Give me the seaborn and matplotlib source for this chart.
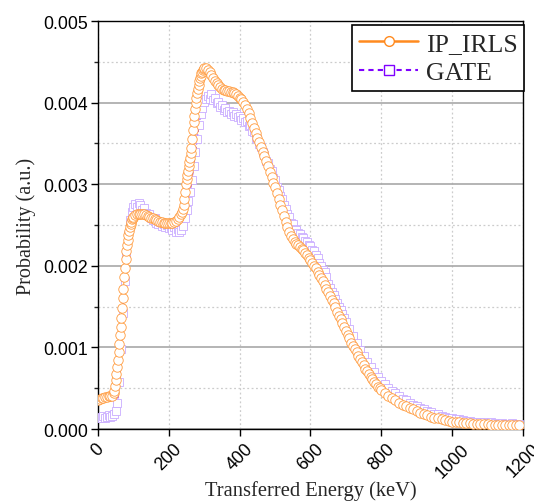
import matplotlib
matplotlib.use("Agg")
import matplotlib.pyplot as plt
from matplotlib.lines import Line2D
from matplotlib.ticker import MultipleLocator, FormatStrFormatter
import seaborn as sns

# IP_IRLS curve (energy in keV, probability)
irls_energy = [*range(0, 46, 5), *range(46, 101, 2), *range(105, 236, 5),
               *range(238, 301, 2), *range(305, 801, 5), *range(810, 1191, 10)]
irls_seg1 = [0.00036, 0.00037, 0.00038, 0.00038, 0.00039, 0.00039, 0.0004, 0.0004, 0.00041, 0.00044]
irls_seg2 = [0.00047, 0.00053, 0.0006, 0.00068, 0.00076, 0.00084, 0.00094, 0.00104, 0.00115, 0.00125,
             0.00136, 0.00148, 0.0016, 0.00172, 0.00186, 0.00197, 0.00208, 0.00218, 0.00225, 0.00232,
             0.00238, 0.00243, 0.00247, 0.00251, 0.00254, 0.00257, 0.00259, 0.0026]
irls_seg3 = [0.00262, 0.00263, 0.00264, 0.00264, 0.00264, 0.00263, 0.00262, 0.00261, 0.0026, 0.00259,
             0.00258, 0.00257, 0.00256, 0.00255, 0.00254, 0.00254, 0.00253, 0.00253, 0.00253, 0.00253,
             0.00253, 0.00253, 0.00254, 0.00255, 0.00257, 0.0026, 0.00263]
irls_seg4 = [0.00266, 0.0027, 0.00275, 0.00282, 0.0029, 0.003, 0.00306, 0.00311, 0.00316, 0.00322,
             0.00327, 0.00332, 0.00338, 0.00345, 0.00356, 0.00367, 0.00376, 0.00384, 0.00392, 0.00399,
             0.00406, 0.00412, 0.00417, 0.00422, 0.00426, 0.0043, 0.00433, 0.00436, 0.00438, 0.0044,
             0.00441, 0.00442]
irls_seg5 = [0.00442, 0.0044, 0.00437, 0.00434, 0.0043, 0.00427, 0.00424, 0.00421, 0.00419, 0.00417,
             0.00416, 0.00415, 0.00414, 0.00414, 0.00413, 0.00413, 0.00412, 0.0041, 0.00408, 0.00406,
             0.00404, 0.00401, 0.00397, 0.00392, 0.00387, 0.00381, 0.00375, 0.00369, 0.00363, 0.00357,
             0.00352, 0.00346, 0.0034, 0.00334, 0.00328, 0.00322, 0.00315, 0.00309, 0.00302, 0.00296,
             0.00289, 0.00282, 0.00275, 0.00268, 0.00261, 0.00254, 0.00248, 0.00242, 0.00237, 0.00233,
             0.00229, 0.00227, 0.00225, 0.00223, 0.00221, 0.00219, 0.00216, 0.00213, 0.0021, 0.00207,
             0.00204, 0.002, 0.00197, 0.00193, 0.00189, 0.00185, 0.00181, 0.00176, 0.00172, 0.00168,
             0.00163, 0.00158, 0.00154, 0.00149, 0.00144, 0.00139, 0.00135, 0.0013, 0.00125, 0.0012,
             0.00115, 0.00111, 0.00106, 0.00102, 0.00098, 0.00094, 0.0009, 0.00086, 0.00082, 0.00078,
             0.00074, 0.00071, 0.00067, 0.00064, 0.00061, 0.00058, 0.00055, 0.00052, 0.0005, 0.00048]
irls_seg6 = [0.00044, 0.00041, 0.00038, 0.00035, 0.00032, 0.0003, 0.00028, 0.00026, 0.00024, 0.00022,
             0.0002, 0.00018, 0.00017, 0.00015, 0.00014, 0.00013, 0.00012, 0.00011, 0.0001, 0.00009,
             0.000085, 0.00008, 0.000075, 0.00007, 0.00007, 0.000065, 0.000065, 0.00006, 0.00006, 0.00006,
             0.000055, 0.000055, 0.000055, 0.00005, 0.00005, 0.00005, 0.00005, 0.00005, 0.00005]
irls_prob = irls_seg1 + irls_seg2 + irls_seg3 + irls_seg4 + irls_seg5 + irls_seg6

# GATE simulation
gate_energy = [*range(0, 701, 5), *range(710, 1191, 10)]
gate_seg1 = [0.00014, 0.00015, 0.00013, 0.00016, 0.00014, 0.00015, 0.00017, 0.00015, 0.00016, 0.00018,
             0.00022, 0.00032, 0.00058, 0.00098, 0.00142, 0.00182, 0.00212, 0.00238, 0.00256, 0.00266,
             0.00272, 0.00276, 0.00272, 0.00277, 0.00274, 0.00268, 0.00271, 0.00265, 0.00262, 0.00264,
             0.00258, 0.00256, 0.00259, 0.00253, 0.00251, 0.00254, 0.00249, 0.00251, 0.00247, 0.0025,
             0.00246, 0.00248, 0.00244, 0.00247, 0.00242, 0.00245, 0.00241, 0.00244, 0.00249, 0.00258,
             0.00268, 0.00279, 0.00291, 0.00305, 0.00322, 0.00339, 0.00356, 0.00372, 0.00386, 0.00394,
             0.00401, 0.00404, 0.00408, 0.00405, 0.0041, 0.00403, 0.00406, 0.00399, 0.00401, 0.00395]
gate_seg2 = [0.00397, 0.00391, 0.00394, 0.00388, 0.0039, 0.00386, 0.00389, 0.00384, 0.00386, 0.00382,
             0.00384, 0.00379, 0.00381, 0.00376, 0.00377, 0.00371, 0.00372, 0.00365, 0.00364, 0.00357,
             0.00355, 0.00349, 0.00346, 0.00339, 0.00336, 0.00329, 0.00326, 0.00319, 0.00316, 0.00308,
             0.00305, 0.00297, 0.00293, 0.00286, 0.00282, 0.00274, 0.0027, 0.00263, 0.0026, 0.00253,
             0.00251, 0.00245, 0.00244, 0.0024, 0.00239, 0.00235, 0.00234, 0.0023, 0.00229, 0.00225,
             0.00224, 0.0022, 0.00218, 0.00213, 0.0021, 0.00204, 0.002, 0.00195, 0.00192, 0.00186,
             0.00178, 0.00173, 0.00168, 0.00164, 0.00159, 0.00155, 0.0015, 0.00146, 0.00141, 0.00136,
             0.00131]
gate_seg3 = [0.00122, 0.00114, 0.00105, 0.00097, 0.0009, 0.00082, 0.00076, 0.0007, 0.00064, 0.00059,
             0.00055, 0.0005, 0.00047, 0.00044, 0.0004, 0.00037, 0.00035, 0.00032, 0.0003, 0.00028,
             0.00026, 0.00024, 0.00022, 0.00021, 0.00019, 0.00018, 0.00016, 0.00015, 0.00014, 0.00013,
             0.00012, 0.00012, 0.00011, 0.0001, 0.0001, 0.00009, 0.00009, 0.00008, 0.00008, 0.00007,
             0.00008, 0.00007, 0.00006, 0.00007, 0.00006, 0.00006, 0.00007, 0.00006, 0.00006]
gate_prob = gate_seg1 + gate_seg2 + gate_seg3

x_ticks = [0, 200, 400, 600, 800, 1000, 1200]

ORANGE = "#ff8a1f"
CIRCLE = "#ff9a3c"
PURPLE = "#7f00ff"
LAVENDER = "#c9acff"

sns.set_style("ticks")
plt.rcParams["font.family"] = ["Liberation Sans", "DejaVu Sans"]
serif = ["Liberation Serif", "DejaVu Serif"]

fig = plt.figure(figsize=(5.34, 5.02), dpi=100)
ax = fig.add_axes([0.1835, 0.1434, 0.7959, 0.8127])

# GATE underneath, IP_IRLS on top
sns.lineplot(x=gate_energy, y=gate_prob, ax=ax, color=PURPLE, linewidth=0.9,
             linestyle=(0, (3, 2)), marker="s", markersize=5.8,
             markerfacecolor="white", markeredgecolor=LAVENDER,
             markeredgewidth=0.6, legend=False, zorder=3)
sns.lineplot(x=irls_energy, y=irls_prob, ax=ax, color=ORANGE, linewidth=0.6,
             marker="o", markersize=6.8, markerfacecolor="white",
             markeredgecolor=CIRCLE, markeredgewidth=0.6, legend=False, zorder=4)

ax.set_xlim(0, 1200)
ax.set_ylim(0, 0.005)
ax.set_xticks(x_ticks)
ax.set_xticklabels([str(t) for t in x_ticks], rotation=45, ha="center")
ax.yaxis.set_major_locator(MultipleLocator(0.001))
ax.yaxis.set_minor_locator(MultipleLocator(0.0005))
ax.yaxis.set_major_formatter(FormatStrFormatter("%.3f"))

ax.set_axisbelow(True)
ax.yaxis.grid(True, which="major", color="#a8a8a8", linewidth=1.2, linestyle="-")
ax.yaxis.grid(True, which="minor", color="#cccccc", linewidth=0.9, linestyle=(0, (1.5, 2)))
ax.xaxis.grid(True, which="major", color="#cccccc", linewidth=0.9, linestyle=(0, (1.5, 2)))

for side in ["top", "bottom", "left", "right"]:
    ax.spines[side].set_visible(True)
    ax.spines[side].set_color("black")
    ax.spines[side].set_linewidth(1.0)

ax.tick_params(axis="both", which="major", direction="out", length=5, width=1.0,
               labelsize=12.7, colors="black")
ax.tick_params(axis="y", which="minor", direction="out", length=3, width=1.0)
ax.tick_params(axis="y", which="major", pad=2)
ax.tick_params(axis="x", which="major", pad=3)

ax.set_xlabel("Transferred Energy (keV)", fontsize=14.8, family=serif)
ax.set_ylabel("Probability (a.u.)", fontsize=14.5, family=serif)
ax.xaxis.set_label_coords(0.5, -0.125)
ax.yaxis.set_label_coords(-0.145, 0.5)

handles = [
    Line2D([], [], color=ORANGE, linewidth=1.8, marker="o", markersize=7,
           markerfacecolor="white", markeredgecolor=ORANGE, markeredgewidth=1.0),
    Line2D([], [], color=PURPLE, linewidth=1.5, linestyle=(0, (2.5, 2)), marker="s",
           markersize=7, markerfacecolor="white", markeredgecolor=PURPLE, markeredgewidth=1.0),
]
leg = ax.legend(handles, ["IP_IRLS", "GATE"], loc="upper right",
                bbox_to_anchor=(1.003, 0.99), borderaxespad=0, frameon=True,
                fancybox=False, framealpha=1, edgecolor="black",
                prop={"family": serif, "size": 18.5}, handlelength=2.3,
                handletextpad=0.3, labelspacing=0.24, borderpad=0.26)
leg.get_frame().set_linewidth(1.2)

fig.savefig("out.png", dpi=100)
